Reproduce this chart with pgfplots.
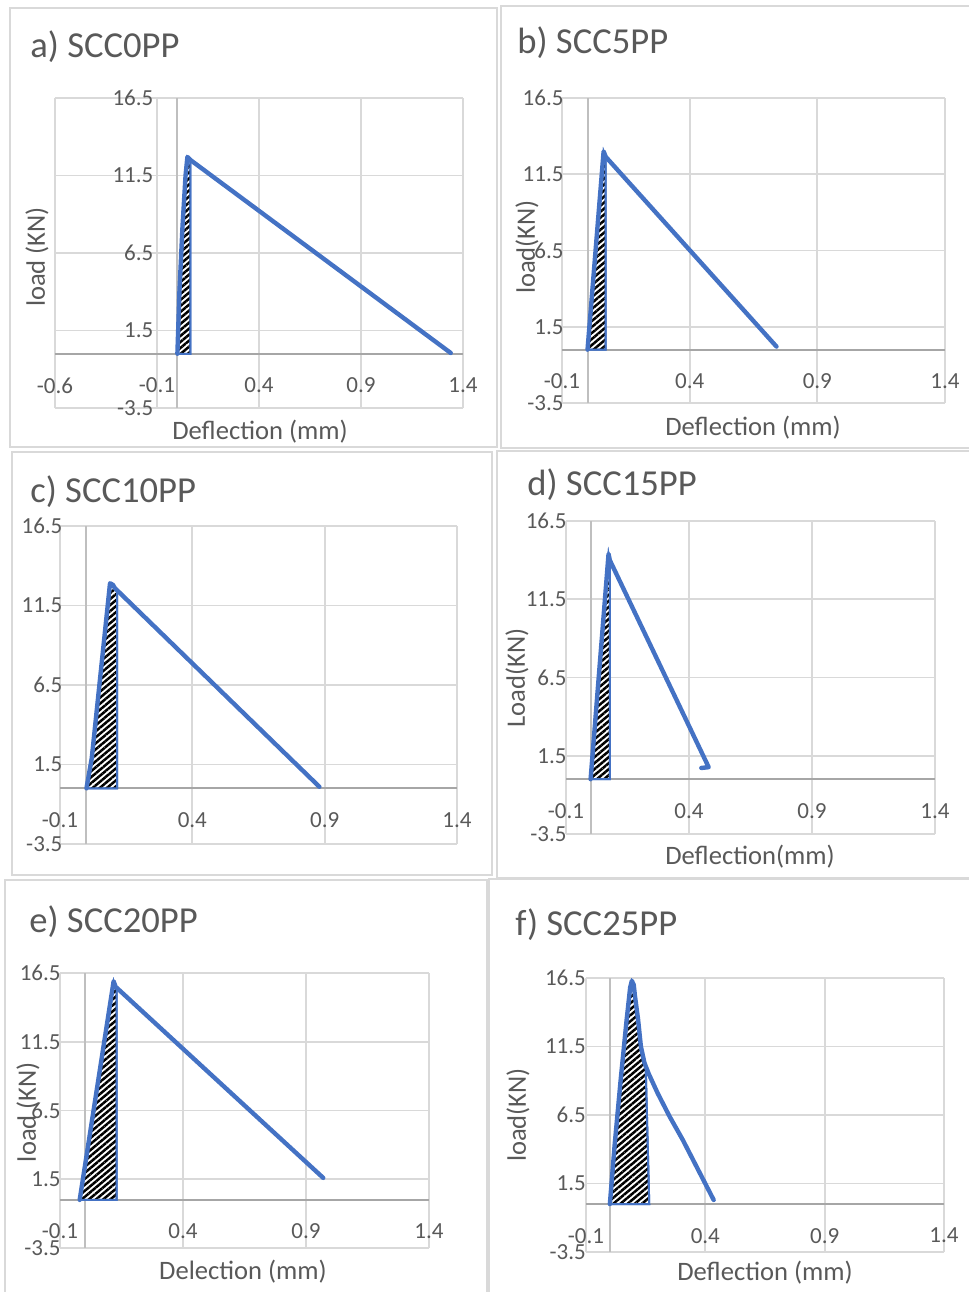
\documentclass[border=0pt]{standalone}
\usepackage{pgfplots}
\pgfplotsset{compat=1.18}
\usetikzlibrary{patterns.meta}
\usepackage{fontspec}
\setmainfont{Carlito}
\definecolor{curveblue}{HTML}{4472C4}
\definecolor{gridgray}{HTML}{D9D9D9}
\definecolor{axgray}{HTML}{A6A6A6}
\definecolor{ygray}{HTML}{BFBFBF}
\definecolor{txtgray}{HTML}{595959}
\definecolor{framegray}{HTML}{D9D9D9}
\pgfplotsset{excel/.style={
  scale only axis, axis lines=middle, axis line style={-},
  x axis line style={draw=axgray, line width=1pt},
  y axis line style={draw=ygray, line width=1pt},
  grid=major, major grid style={draw=gridgray, line width=0.9pt},
  ymin=-3.5, ymax=16.5, ytick={-3.5,1.5,6.5,11.5,16.5},
  yticklabels={-3.5,1.5,6.5,11.5,16.5},
  major tick length=0pt,
  tick label style={font=\fontsize{11.5}{13}\selectfont, text=txtgray},
  xticklabel style={anchor=north, yshift=-8.5pt},
  yticklabel style={anchor=east, xshift=-8.5pt},
  anchor=south west,
  xmin=-0.1, xmax=1.4, xtick={-0.1,0.4,0.9,1.4}, xticklabels={-0.1,0.4,0.9,1.4},
},
curve/.style={draw=curveblue, line width=2.2pt, no marks, line join=round, line cap=round},
hatch/.style={draw=curveblue, line width=1pt, no marks, preaction={fill=white},
  pattern={Lines[angle=40,distance=2.3pt,line width=1.25pt]}, pattern color=black}
}
\begin{document}
\begin{tikzpicture}
\useasboundingbox (0,0) rectangle (484.5pt,-646pt);
\begin{scope}[x=0.5pt,y=-0.5pt]
\draw[framegray, line width=0.8pt] (10,8) rectangle (497,447);
\draw[framegray, line width=0.8pt] (501,6) rectangle (975,448);
\draw[framegray, line width=0.8pt] (12,452) rectangle (492,875);
\draw[framegray, line width=0.8pt] (497,451) rectangle (975,878);
\draw[framegray, line width=0.8pt] (5,880) rectangle (487,1300);
\draw[framegray, line width=0.8pt] (489,879) rectangle (975,1300);
\end{scope}

% a) SCC0PP
\begin{axis}[excel, at={(27.5pt,-204pt)}, width=204pt, height=155pt,
  xmin=-0.6, xmax=1.4, xtick={-0.6,-0.1,0.4,0.9,1.4}, xticklabels={-0.6,-0.1,0.4,0.9,1.4}]
\addplot[hatch] coordinates {(0,0) (0.01,4) (0.025,8.2) (0.04,11.5) (0.049,12.7) (0.064,12.5) (0.064,0)} -- cycle;
\addplot[curve] coordinates {(0,0) (0.01,4) (0.025,8.2) (0.04,11.5) (0.049,12.7) (0.064,12.5) (1.34,0.05)};
\end{axis}

% b) SCC5PP
\begin{axis}[excel, at={(281pt,-201.5pt)}, width=191.5pt, height=152.5pt]
\addplot[hatch] coordinates {(0,0) (0.063,13.0) (0.071,12.65) (0.071,0)} -- cycle;
\addplot[curve] coordinates {(0,0) (0.063,13.0) (0.071,12.65) (0.74,0.2)};
\end{axis}

% c) SCC10PP
\begin{axis}[excel, at={(30pt,-422pt)}, width=198.5pt, height=159pt]
\addplot[hatch] coordinates {(0,0) (0.02,1.9) (0.089,12.9) (0.1,12.8) (0.107,12.6) (0.116,12.45) (0.116,0)} -- cycle;
\addplot[curve] coordinates {(0,0) (0.02,1.9) (0.089,12.9) (0.1,12.8) (0.107,12.6) (0.88,0.1)};
\end{axis}

% d) SCC15PP
\begin{axis}[excel, at={(283pt,-417pt)}, width=184.5pt, height=156.5pt]
\addplot[hatch] coordinates {(0,0) (0.073,14.4) (0.078,14.0) (0.078,0)} -- cycle;
\addplot[curve] coordinates {(0,0) (0.073,14.4) (0.078,14.0) (0.48,0.77) (0.45,0.72)};
\end{axis}

% e) SCC20PP
\begin{axis}[excel, at={(30pt,-624pt)}, width=184.5pt, height=137.5pt]
\addplot[hatch] coordinates {(-0.02,0) (0.118,15.9) (0.126,15.5) (0.13,15.45) (0.13,0)} -- cycle;
\addplot[curve] coordinates {(-0.02,0) (0.118,15.9) (0.126,15.5) (0.97,1.6)};
\end{axis}

% f) SCC25PP
\begin{axis}[excel, at={(293pt,-626pt)}, width=179pt, height=137pt]
\addplot[hatch] coordinates {(0,0) (0.02,4.3) (0.046,9.2) (0.07,13.4) (0.085,15.8) (0.092,16.3) (0.1,16.0) (0.105,15.2) (0.118,13.5) (0.13,11.5) (0.145,10.3) (0.15,10.1) (0.165,0)} -- cycle;
\addplot[curve] coordinates {(0,0) (0.02,4.3) (0.046,9.2) (0.07,13.4) (0.085,15.8) (0.092,16.3) (0.1,16.0) (0.105,15.2) (0.118,13.5) (0.13,11.5) (0.145,10.3) (0.163,9.5) (0.2,8.1) (0.25,6.4) (0.305,4.7) (0.37,2.5) (0.435,0.3)};
\end{axis}

\begin{scope}[x=0.5pt,y=-0.5pt, every node/.style={text=txtgray, inner sep=0pt}]
\node[anchor=west, font=\fontsize{18.3}{20}\selectfont] at (30,47) {a) SCC0PP};
\node[anchor=west, font=\fontsize{18.3}{20}\selectfont] at (517,43) {b) SCC5PP};
\node[anchor=west, font=\fontsize{18.3}{20}\selectfont] at (30,492) {c) SCC10PP};
\node[anchor=west, font=\fontsize{18.3}{20}\selectfont] at (527,485) {d) SCC15PP};
\node[anchor=west, font=\fontsize{18.3}{20}\selectfont] at (29,922) {e) SCC20PP};
\node[anchor=west, font=\fontsize{18.3}{20}\selectfont] at (515,925) {f) SCC25PP};
\node[rotate=90, font=\fontsize{13.3}{15}\selectfont] at (37,257) {load (KN)};
\node[font=\fontsize{13.3}{15}\selectfont] at (260,432) {Deflection (mm)};
\node[rotate=90, font=\fontsize{13.3}{15}\selectfont] at (527,247) {load(KN)};
\node[font=\fontsize{13.3}{15}\selectfont] at (753,428) {Deflection (mm)};
\node[rotate=90, font=\fontsize{13.3}{15}\selectfont] at (517,678) {Load(KN)};
\node[font=\fontsize{13.3}{15}\selectfont] at (750,857) {Deflection(mm)};
\node[rotate=90, font=\fontsize{13.3}{15}\selectfont] at (28,1112) {load (KN)};
\node[font=\fontsize{13.3}{15}\selectfont] at (243,1272) {Delection (mm)};
\node[rotate=90, font=\fontsize{13.3}{15}\selectfont] at (518,1115) {load(KN)};
\node[font=\fontsize{13.3}{15}\selectfont] at (765,1273) {Deflection (mm)};
\end{scope}
\end{tikzpicture}
\end{document}
